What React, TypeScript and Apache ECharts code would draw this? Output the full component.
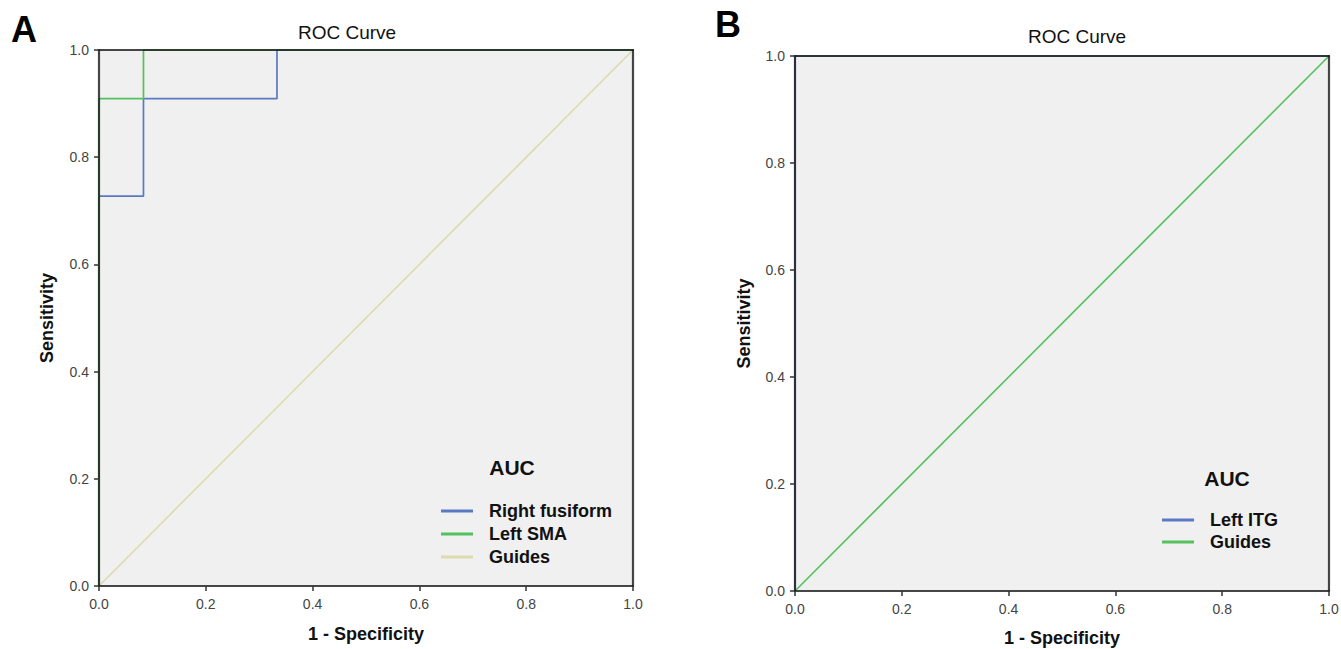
import React, { useEffect, useRef } from "react";
import * as echarts from "echarts";

// Panel A data (1 - Specificity, Sensitivity)
const rightFusiformFpr = [0, 0, 0.0833, 0.0833, 0.3333, 0.3333, 1];
const rightFusiformTpr = [0, 0.7273, 0.7273, 0.9091, 0.9091, 1, 1];
const leftSmaFpr = [0, 0, 0.0833, 0.0833, 1];
const leftSmaTpr = [0, 0.9091, 0.9091, 1, 1];
const guidesAFpr = [0, 1];
const guidesATpr = [0, 1];

// Panel B data
const leftItgFpr = [0, 0, 1];
const leftItgTpr = [0, 1, 1];
const guidesBFpr = [0, 1];
const guidesBTpr = [0, 1];

const legendA = ["Right fusiform", "Left SMA", "Guides"];
const legendB = ["Left ITG", "Guides"];
const titles = ["ROC Curve", "ROC Curve"];
const panelLabels = ["A", "B"];
const xTitle = "1 - Specificity";
const yTitle = "Sensitivity";

const BLUE = "#5b78c2";
const GREEN = "#52c160";
const KHAKI = "#dcdcae";
const GREEN_B = "#55c25f";
const FONT = "'Liberation Sans', Arial, sans-serif";
const AXIS_COLOR = "rgba(25,25,25,0.8)";

const zip = (xs: number[], ys: number[]) => xs.map((x, i) => [x, ys[i]]);

export default function App() {
  const ref = useRef<HTMLDivElement>(null);
  useEffect(() => {
    if (!ref.current) return;
    const chart = echarts.init(ref.current, undefined, { renderer: "svg" });

    const grids = [
      { left: 99, top: 50, width: 534, height: 536 },
      { left: 795, top: 56, width: 534, height: 535 },
    ];

    const xAxes: any[] = [];
    const yAxes: any[] = [];
    grids.forEach((_, gi) => {
      xAxes.push({
        type: "value",
        gridIndex: gi,
        min: 0,
        max: 1,
        interval: 0.2,
        position: "bottom",
        z: 5,
        name: xTitle,
        nameLocation: "middle",
        nameGap: gi === 0 ? 39 : 38,
        nameTextStyle: { fontFamily: FONT, fontWeight: "bold", fontSize: 18, color: "#111" },
        axisLine: { show: true, onZero: false, lineStyle: { color: AXIS_COLOR, width: 2.2 } },
        axisTick: { show: true, length: 5, lineStyle: { color: "#333", width: 1.5 } },
        axisLabel: {
          margin: 11,
          fontFamily: FONT,
          fontSize: 14,
          color: "#444",
          formatter: (v: number) => v.toFixed(1),
        },
        splitLine: { show: false },
      });
      xAxes.push({
        type: "value",
        gridIndex: gi,
        min: 0,
        max: 1,
        position: "top",
        z: 5,
        axisLine: { show: true, onZero: false, lineStyle: { color: AXIS_COLOR, width: 2.2 } },
        axisTick: { show: false },
        axisLabel: { show: false },
        splitLine: { show: false },
      });
      yAxes.push({
        type: "value",
        gridIndex: gi,
        min: 0,
        max: 1,
        interval: 0.2,
        position: "left",
        z: 5,
        name: yTitle,
        nameLocation: "middle",
        nameGap: gi === 0 ? 43 : 42,
        nameTextStyle: { fontFamily: FONT, fontWeight: "bold", fontSize: 18, color: "#111" },
        axisLine: { show: true, onZero: false, lineStyle: { color: AXIS_COLOR, width: 2.2 } },
        axisTick: { show: true, length: 5, lineStyle: { color: "#333", width: 1.5 } },
        axisLabel: {
          margin: 10,
          fontFamily: FONT,
          fontSize: 14,
          color: "#444",
          formatter: (v: number) => v.toFixed(1),
        },
        splitLine: { show: false },
      });
      yAxes.push({
        type: "value",
        gridIndex: gi,
        min: 0,
        max: 1,
        position: "right",
        z: 5,
        axisLine: { show: true, onZero: false, lineStyle: { color: AXIS_COLOR, width: 2.2 } },
        axisTick: { show: false },
        axisLabel: { show: false },
        splitLine: { show: false },
      });
    });

    const lineSeries = (name: string, data: number[][], color: string, gi: number, z: number) => ({
      type: "line",
      name,
      data,
      xAxisIndex: gi * 2,
      yAxisIndex: gi * 2,
      color,
      showSymbol: false,
      symbol: "none",
      clip: false,
      z,
      lineStyle: { color, width: 1.7 },
      itemStyle: { color },
      emphasis: { disabled: true },
    });

    const legendText = {
      fontFamily: FONT,
      fontWeight: "bold",
      fontSize: 18,
      color: "#111",
      lineHeight: 18,
      padding: [0, 0, 0, 11],
    };

    chart.setOption({
      animation: false,
      grid: grids.map((g) => ({
        ...g,
        show: true,
        backgroundColor: "#f0f0f0",
        borderWidth: 0,
        containLabel: false,
        outerBoundsMode: "none",
      })),
      xAxis: xAxes,
      yAxis: yAxes,
      legend: [
        {
          left: 441,
          top: 502,
          padding: 0,
          orient: "vertical",
          icon: "rect",
          itemWidth: 32,
          itemHeight: 3,
          itemGap: 5,
          selectedMode: false,
          textStyle: legendText,
          data: [
            { name: legendA[0], itemStyle: { color: BLUE } },
            { name: legendA[1], itemStyle: { color: GREEN } },
            { name: legendA[2], itemStyle: { color: KHAKI } },
          ],
        },
        {
          left: 1162,
          top: 511,
          padding: 0,
          orient: "vertical",
          icon: "rect",
          itemWidth: 32,
          itemHeight: 3,
          itemGap: 4,
          selectedMode: false,
          textStyle: legendText,
          data: [
            { name: legendB[0], itemStyle: { color: BLUE } },
            { name: legendB[1], itemStyle: { color: GREEN_B } },
          ],
        },
      ],
      graphic: [
        { type: "text", x: 24, y: 29, style: { text: panelLabels[0], font: `bold 36px ${FONT}`, fill: "#000", align: "center", verticalAlign: "middle" } },
        { type: "text", x: 728, y: 24, style: { text: panelLabels[1], font: `bold 36px ${FONT}`, fill: "#000", align: "center", verticalAlign: "middle" } },
        { type: "text", x: 347, y: 32, style: { text: titles[0], font: `19px ${FONT}`, fill: "#111", align: "center", verticalAlign: "middle" } },
        { type: "text", x: 1077, y: 36, style: { text: titles[1], font: `19px ${FONT}`, fill: "#111", align: "center", verticalAlign: "middle" } },
        { type: "text", x: 512, y: 467, style: { text: "AUC", font: `bold 21px ${FONT}`, fill: "#111", align: "center", verticalAlign: "middle" } },
        { type: "text", x: 1227, y: 478, style: { text: "AUC", font: `bold 21px ${FONT}`, fill: "#111", align: "center", verticalAlign: "middle" } },
      ],
      series: [
        lineSeries(legendA[2], zip(guidesAFpr, guidesATpr), KHAKI, 0, 2),
        lineSeries(legendA[0], zip(rightFusiformFpr, rightFusiformTpr), BLUE, 0, 3),
        lineSeries(legendA[1], zip(leftSmaFpr, leftSmaTpr), GREEN, 0, 4),
        lineSeries(legendB[0], zip(leftItgFpr, leftItgTpr), BLUE, 1, 2),
        lineSeries(legendB[1], zip(guidesBFpr, guidesBTpr), GREEN_B, 1, 3),
      ],
    });
    return () => chart.dispose();
  }, []);
  return (
    <div
      ref={ref}
      style={{ position: "absolute", left: 0, top: 0, width: 1341, height: 649, background: "#fff" }}
    />
  );
}
